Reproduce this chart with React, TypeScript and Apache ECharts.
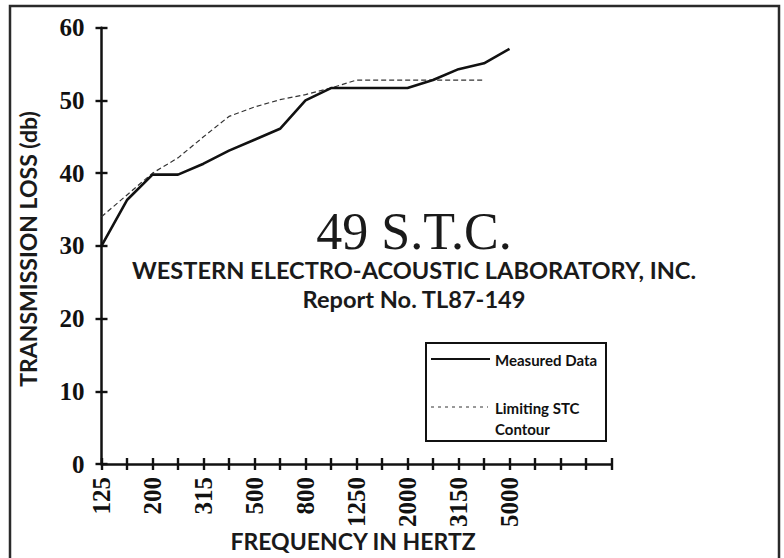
import React, { useEffect, useRef } from "react";
import * as echarts from "echarts";

// 1/3-octave band centre frequencies shown on the x axis
const bands = ["125", "160", "200", "250", "315", "400", "500", "630", "800", "1000", "1250", "1600", "2000", "2500", "3150", "4000", "5000", "6300", "8000", "10000", "12500"];
// bands whose labels are printed
const labeledBands = ["125", "200", "315", "500", "800", "1250", "2000", "3150", "5000"];
// measured transmission loss (dB), 125 Hz .. 5000 Hz
const measured = [30, 36.3, 39.8, 39.8, 41.3, 43.1, 44.6, 46.1, 50, 51.7, 51.7, 51.7, 51.7, 52.8, 54.3, 55.1, 57.1];
// limiting STC contour (dB), 125 Hz .. 4000 Hz
const contour = [34, 37, 40, 42.1, 45, 47.8, 49.1, 50.1, 50.8, 51.7, 52.8, 52.8, 52.8, 52.8, 52.8, 52.8];
// y axis ticks
const yMin = 0;
const yMax = 60;
const yStep = 10;

const titleText = "49 S.T.C.";
const labText = "WESTERN ELECTRO-ACOUSTIC LABORATORY, INC.";
const reportText = "Report No. TL87-149";
const yTitle = "TRANSMISSION LOSS (db)";
const xTitle = "FREQUENCY IN HERTZ";
const legendMeasured = "Measured Data";
const legendContour1 = "Limiting STC";
const legendContour2 = "Contour";

const serif = "'Liberation Serif', 'DejaVu Serif', serif";
const sans = "Lato, 'Noto Sans', sans-serif";

export default function App() {
  const ref = useRef<HTMLDivElement>(null);
  useEffect(() => {
    if (!ref.current) return;
    const chart = echarts.init(ref.current, null, { renderer: "svg" });
    const axisLine = { show: true, lineStyle: { color: "#111", width: 2.5 } };
    const tickStyle = { color: "#111", width: 2.4 };
    const xLabel = {
      interval: 0,
      rotate: 90,
      margin: 13,
      color: "#111",
      fontFamily: serif,
      fontWeight: "bold" as const,
      fontSize: 25,
      formatter: (v: string) => (labeledBands.includes(v) ? v : ""),
    };
    chart.setOption({
      animation: false,
      backgroundColor: "#fff",
      grid: { left: 101.5, right: 172.5, top: 27.7, bottom: 94, containLabel: false },
      xAxis: [
        {
          type: "category",
          data: bands,
          boundaryGap: false,
          axisLine,
          axisTick: { show: true, interval: 0, inside: false, length: 6, lineStyle: tickStyle },
          axisLabel: xLabel,
          splitLine: { show: false },
        },
        {
          type: "category",
          data: bands,
          boundaryGap: false,
          position: "bottom",
          axisLine: { show: false },
          axisTick: { show: true, interval: 0, inside: true, length: 6, lineStyle: tickStyle },
          axisLabel: { show: false },
          splitLine: { show: false },
        },
      ],
      yAxis: [
        {
          type: "value",
          min: yMin,
          max: yMax,
          interval: yStep,
          axisLine,
          axisTick: { show: true, inside: false, length: 6, lineStyle: tickStyle },
          axisLabel: { margin: 17, color: "#111", fontFamily: serif, fontWeight: "bold", fontSize: 25 },
          splitLine: { show: false },
        },
        {
          type: "value",
          min: yMin,
          max: yMax,
          interval: yStep,
          position: "left",
          axisLine: { show: false },
          axisTick: { show: true, inside: true, length: 6, lineStyle: tickStyle },
          axisLabel: { show: false },
          splitLine: { show: false },
        },
      ],
      series: [
        {
          name: legendContour1,
          type: "line",
          data: contour,
          symbol: "none",
          lineStyle: { color: "#333", width: 1.2, type: [5, 3] },
          z: 2,
        },
        {
          name: legendMeasured,
          type: "line",
          data: measured,
          symbol: "none",
          lineStyle: { color: "#111", width: 2.6 },
          z: 3,
        },
      ],
      graphic: [
        {
          type: "rect",
          shape: { x: 10, y: 6, width: 769, height: 600 },
          style: { fill: "none", stroke: "#2a2a2a", lineWidth: 2.5 },
          silent: true,
        },
        {
          type: "text",
          x: 414,
          y: 231,
          style: { text: titleText, font: `normal 52px ${serif}`, fill: "#1a1a1a", align: "center", verticalAlign: "middle", textAlign: "center", textVerticalAlign: "middle" },
        },
        {
          type: "text",
          x: 414,
          y: 270,
          style: { text: labText, font: `bold 23.6px ${sans}`, fill: "#1a1a1a", align: "center", verticalAlign: "middle", textAlign: "center", textVerticalAlign: "middle" },
        },
        {
          type: "text",
          x: 414,
          y: 299,
          style: { text: reportText, font: `bold 23.6px ${sans}`, fill: "#1a1a1a", align: "center", verticalAlign: "middle", textAlign: "center", textVerticalAlign: "middle" },
        },
        {
          type: "text",
          x: 28,
          y: 249,
          rotation: Math.PI / 2,
          style: { text: yTitle, font: `bold 23px ${sans}`, fill: "#1a1a1a", align: "center", verticalAlign: "middle", textAlign: "center", textVerticalAlign: "middle" },
        },
        {
          type: "text",
          x: 353,
          y: 541,
          style: { text: xTitle, font: `bold 23px ${sans}`, fill: "#1a1a1a", align: "center", verticalAlign: "middle", textAlign: "center", textVerticalAlign: "middle" },
        },
        {
          type: "rect",
          shape: { x: 426, y: 343, width: 180, height: 98 },
          style: { fill: "#fff", stroke: "#111", lineWidth: 2 },
        },
        {
          type: "line",
          shape: { x1: 431, y1: 359, x2: 490, y2: 359 },
          style: { stroke: "#111", lineWidth: 2 },
        },
        {
          type: "line",
          shape: { x1: 431, y1: 407, x2: 488, y2: 407 },
          style: { stroke: "#333", lineWidth: 1, lineDash: [3, 4] },
        },
        {
          type: "text",
          x: 495,
          y: 360,
          style: { text: legendMeasured, font: `bold 15px ${sans}`, fill: "#111", align: "left", verticalAlign: "middle", textAlign: "left", textVerticalAlign: "middle" },
        },
        {
          type: "text",
          x: 495,
          y: 408,
          style: { text: legendContour1, font: `bold 15px ${sans}`, fill: "#111", align: "left", verticalAlign: "middle", textAlign: "left", textVerticalAlign: "middle" },
        },
        {
          type: "text",
          x: 495,
          y: 429,
          style: { text: legendContour2, font: `bold 15px ${sans}`, fill: "#111", align: "left", verticalAlign: "middle", textAlign: "left", textVerticalAlign: "middle" },
        },
      ],
    });
    return () => chart.dispose();
  }, []);
  return <div ref={ref} style={{ position: "fixed", left: 0, top: 0, width: 784, height: 558 }} />;
}
